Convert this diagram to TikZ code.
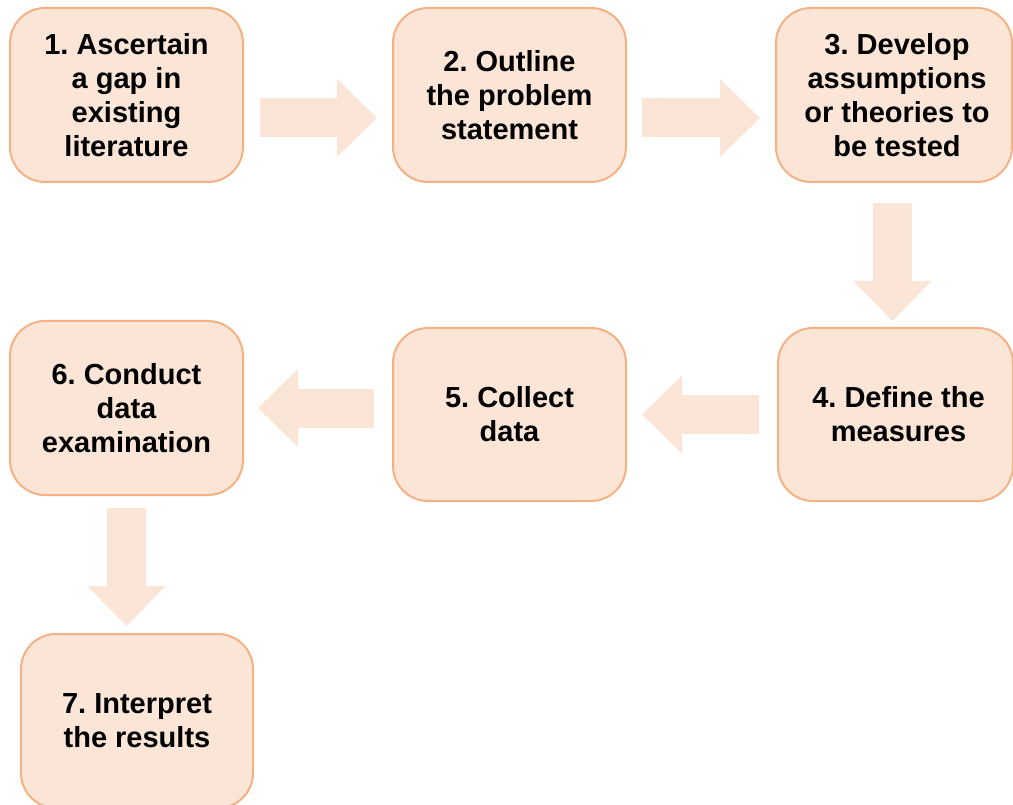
\documentclass[tikz,border=0pt]{standalone}
\usepackage{fontspec}
\setmainfont{Liberation Sans}
\frenchspacing
\usetikzlibrary{arrows.meta}
\definecolor{stepfill}{HTML}{FBE5D6}
\definecolor{stepline}{HTML}{F4B183}
\begin{document}
\begin{tikzpicture}[x=1pt,y=-1pt,
    stepbox/.style={draw=stepline,fill=stepfill,line width=2pt,rounded corners=35pt,
        minimum width=233pt,minimum height=174pt,align=center,inner sep=0pt,
        font=\fontsize{29}{34}\selectfont\bfseries},
    blockarrow/.style={draw=stepfill,line width=39pt,
        -{Triangle[length=40pt,width=78pt,line width=0pt]}}]
        \useasboundingbox (0,0) rectangle (1013,805);

        \node[stepbox] (s1) at (126.5, 95) {1. Ascertain\\a gap in\\existing\\literature};
        \node[stepbox] (s2) at (509.5, 95) {2. Outline\\the problem\\statement};
        \node[stepbox,minimum width=236pt] (s3) at (894, 95) {\hspace*{6pt}3. Develop\\\hspace*{6pt}assumptions\\\hspace*{6pt}or theories to\\\hspace*{6pt}be tested};
        \node[stepbox,minimum width=235pt,minimum height=173pt] (s4) at (895.5, 414.5) {\hspace*{6pt}4. Define the\\\hspace*{6pt}measures};
        \node[stepbox,minimum height=173pt] (s5) at (509.5, 414.5) {5. Collect\\data};
        \node[stepbox] (s6) at (126.5, 408) {6. Conduct\\data\\examination};
        \node[stepbox,minimum width=232pt] (s7) at (137, 721) {7. Interpret\\the results};

        \draw[blockarrow,shorten <=16pt,shorten >=15pt] ([yshift=-23pt]s1.east) -- ([yshift=-23pt]s2.west);
        \draw[blockarrow,shorten <=15pt,shorten >=15pt] ([yshift=-23pt]s2.east) -- ([yshift=-23pt]s3.west);
        \draw[blockarrow,shorten <=20pt,shorten >=6pt] ([xshift=-1.5pt]s3.south) -- ([xshift=-1.5pt]s3.south |- s4.north);
        \draw[blockarrow,shorten <=18pt,shorten >=15pt] (s4.west) -- (s5.east);
        \draw[blockarrow,shorten <=18pt,shorten >=14pt] (s5.west |- s6.east) -- (s6.east);
        \draw[blockarrow,shorten <=12pt,shorten >=7pt] (s6.south) -- (s6.south |- s7.north);
    \end{tikzpicture}
\end{document}
